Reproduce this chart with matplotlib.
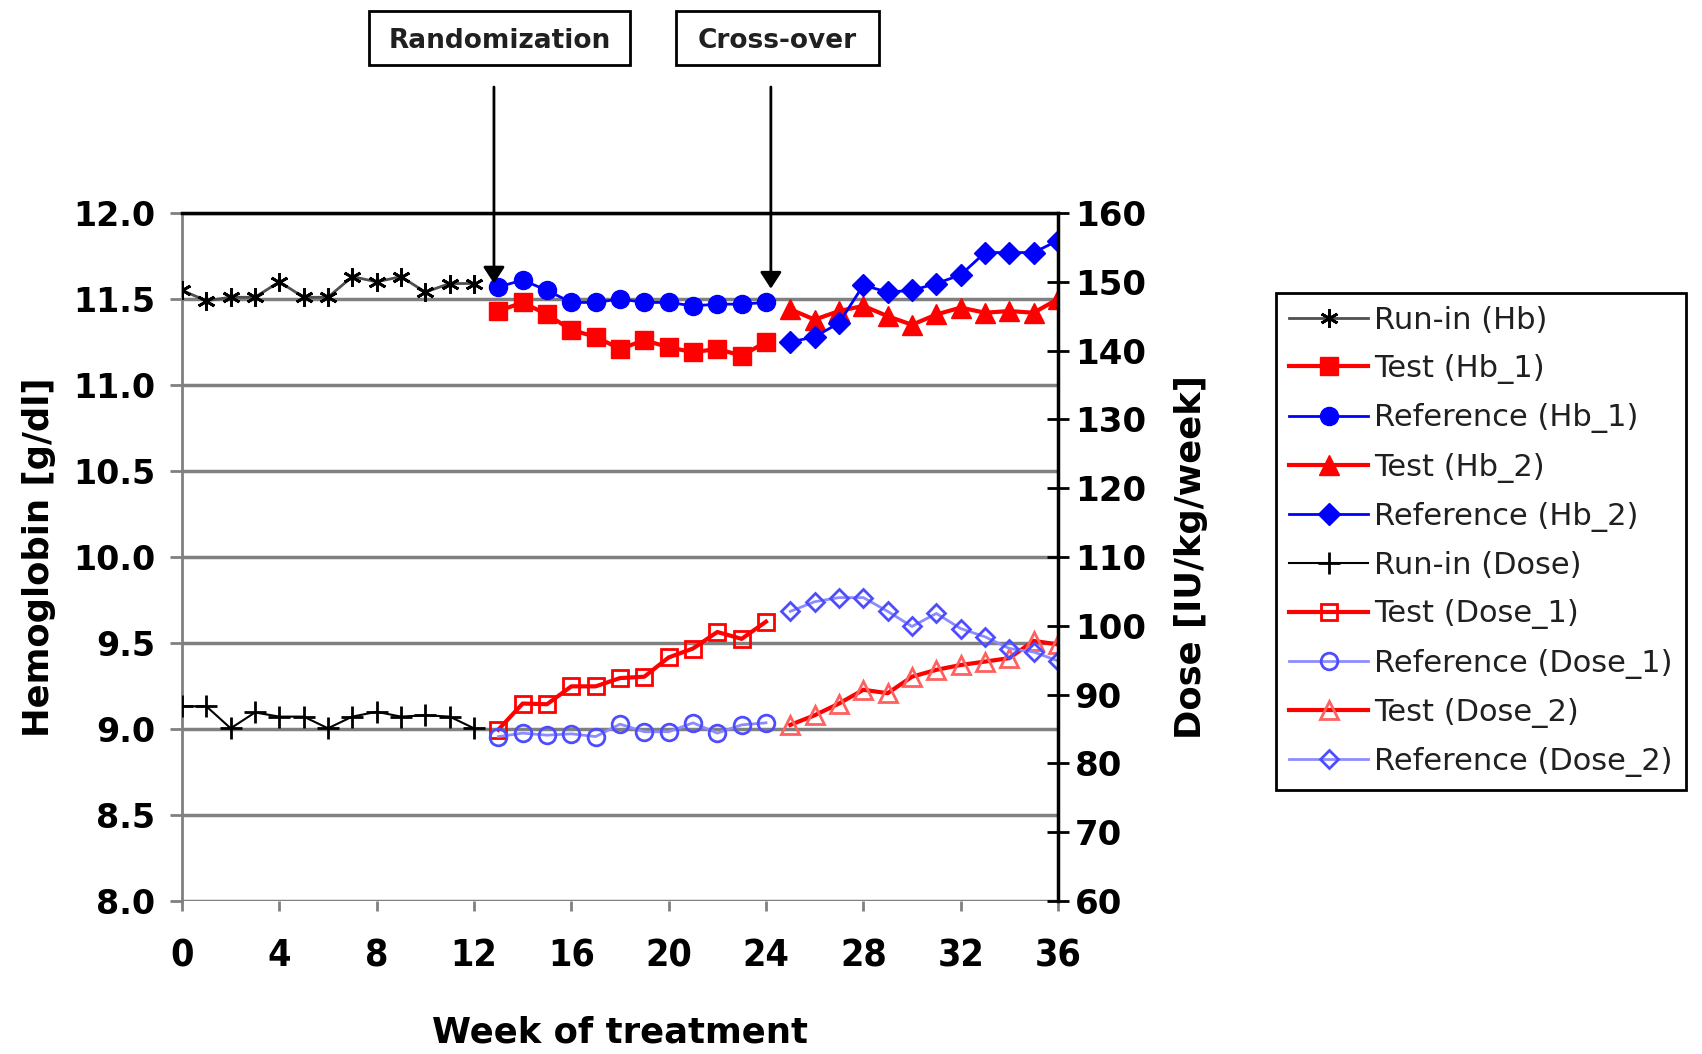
import matplotlib
matplotlib.use('Agg')
import matplotlib.pyplot as plt
from matplotlib import font_manager
from matplotlib.patches import Rectangle

# weeks
wk_run = [0, 1, 2, 3, 4, 5, 6, 7, 8, 9, 10, 11, 12]
wk_p1 = [13, 14, 15, 16, 17, 18, 19, 20, 21, 22, 23, 24]
wk_p2 = [25, 26, 27, 28, 29, 30, 31, 32, 33, 34, 35, 36]

# hemoglobin [g/dl]
hb_run = [11.55, 11.49, 11.51, 11.51, 11.60, 11.51, 11.51, 11.63, 11.60, 11.63, 11.54, 11.59, 11.59]
hb_test_1 = [11.43, 11.48, 11.41, 11.32, 11.28, 11.21, 11.26, 11.22, 11.19, 11.21, 11.17, 11.25]
hb_ref_1 = [11.57, 11.61, 11.55, 11.48, 11.48, 11.50, 11.48, 11.48, 11.46, 11.47, 11.47, 11.48]
hb_test_2 = [11.44, 11.38, 11.43, 11.46, 11.40, 11.35, 11.41, 11.45, 11.42, 11.43, 11.42, 11.50]
hb_ref_2 = [11.25, 11.28, 11.36, 11.58, 11.54, 11.55, 11.59, 11.64, 11.77, 11.77, 11.77, 11.84]

# dose [IU/kg/week]
dose_run = [88.3, 88.3, 85.1, 87.4, 86.8, 86.8, 85.1, 86.8, 87.5, 86.8, 87.0, 86.8, 85.1]
dose_test_1 = [84.9, 88.7, 88.6, 91.2, 91.2, 92.4, 92.6, 95.4, 96.7, 99.1, 98.1, 100.6]
dose_ref_1 = [83.9, 84.4, 84.1, 84.3, 83.9, 85.7, 84.6, 84.6, 85.9, 84.4, 85.6, 85.9]
dose_test_2 = [85.6, 87.0, 88.7, 90.7, 90.2, 92.6, 93.6, 94.3, 94.8, 95.3, 97.8, 97.3]
dose_ref_2 = [102.1, 103.5, 104.1, 104.1, 102.1, 99.9, 101.8, 99.6, 98.4, 96.7, 96.2, 94.9]

W, H = 1702, 1054
plt.rcParams['font.family'] = 'DejaVu Sans'
plt.rcParams['font.weight'] = 'bold'

names = {f.name for f in font_manager.fontManager.ttflist}
if 'Liberation Sans Narrow' in names:
    xfont = dict(family='Liberation Sans Narrow', size=28, weight='bold')
else:
    xfont = dict(family='DejaVu Sans', size=27, weight='bold', stretch='condensed')

fig = plt.figure(figsize=(W / 100, H / 100), dpi=100)
ax = fig.add_axes([182 / W, 1 - 901 / H, 876 / W, 688 / H])
ax2 = ax.twinx()

# hemoglobin on left axis
ax.plot(wk_run, hb_run, color='#505050', lw=2, marker=(6, 2, 0), ms=13,
        mec='black', mew=2, label='Run-in (Hb)', zorder=5)
ax.plot(wk_p1, hb_test_1, color='red', lw=3, marker='s', ms=13, mfc='red',
        mec='red', label='Test (Hb_1)', zorder=5)
ax.plot(wk_p1, hb_ref_1, color='blue', lw=2, marker='o', ms=13, mfc='blue',
        mec='blue', label='Reference (Hb_1)', zorder=5)
ax.plot(wk_p2, hb_test_2, color='red', lw=3, marker='^', ms=14, mfc='red',
        mec='red', label='Test (Hb_2)', zorder=5)
ax.plot(wk_p2, hb_ref_2, color='blue', lw=2, marker='D', ms=11, mfc='blue',
        mec='blue', label='Reference (Hb_2)', zorder=5)

# dose on right axis
ax2.plot(wk_run, dose_run, color='black', lw=1.5, marker='+', ms=16, mew=2,
         label='Run-in (Dose)')
ax2.plot(wk_p1, dose_test_1, color='red', lw=3, marker='s', ms=12, mfc='none',
         mec='red', mew=2, label='Test (Dose_1)')
ax2.plot(wk_p1, dose_ref_1, color='#8c8cff', lw=2, marker='o', ms=12, mfc='none',
         mec='#4d4dff', mew=2, label='Reference (Dose_1)')
ax2.plot(wk_p2, dose_test_2, color='red', lw=3, marker='^', ms=13, mfc='none',
         mec='#ff6060', mew=2, label='Test (Dose_2)')
ax2.plot(wk_p2, dose_ref_2, color='#8c8cff', lw=2, marker='D', ms=9, mfc='none',
         mec='#4d4dff', mew=2, label='Reference (Dose_2)')

ax.set_xlim(0, 36)
ax.set_ylim(8.0, 12.0)
ax2.set_ylim(60, 160)
ax.set_xticks(range(0, 37, 4))
ax.set_yticks([8.0, 8.5, 9.0, 9.5, 10.0, 10.5, 11.0, 11.5, 12.0])
ax.set_yticklabels(['%.1f' % v for v in ax.get_yticks()])
ax2.set_yticks(range(60, 161, 10))

ax.grid(axis='y', color='#808080', lw=2.5)
ax.set_axisbelow(True)
for s in ['top', 'right', 'bottom', 'left']:
    ax.spines[s].set_visible(False)
for s in ['top', 'bottom', 'left']:
    ax2.spines[s].set_visible(False)
ax.spines['left'].set_visible(True)
ax.spines['left'].set_color('#808080')
ax.spines['left'].set_linewidth(2)
ax.spines['top'].set_visible(True)
ax.spines['top'].set_color('black')
ax.spines['top'].set_linewidth(2.5)
ax2.spines['right'].set_color('black')
ax2.spines['right'].set_linewidth(2.5)

ax.tick_params(axis='y', direction='out', length=9, width=2, color='#808080',
               pad=10, labelsize=24)
ax.tick_params(axis='x', direction='out', length=7, width=2, color='#808080', pad=20)
for lbl in ax.get_xticklabels():
    lbl.set(**xfont)
ax2.tick_params(axis='y', direction='inout', length=16, width=2, color='black',
                pad=4, labelsize=24.5)

ax.set_xlabel('Week of treatment', fontsize=25.5, fontweight='bold')
ax.xaxis.set_label_coords(0.5, -0.166)
ax.set_ylabel('Hemoglobin [g/dl]', fontsize=25.5, fontweight='bold')
ax.yaxis.set_label_coords(-0.144, 0.5)
ax2.set_ylabel('Dose [IU/kg/week]', fontsize=25.5, fontweight='bold')
ax2.yaxis.set_label_coords(1.132, 0.5)

# event boxes and arrows
boxes = [('Randomization', 369, 630, 12.82, 11.59), ('Cross-over', 676, 879, 24.2, 11.56)]
for txt, x0, x1, wk, hb in boxes:
    fig.add_artist(Rectangle((x0 / W, 1 - 65 / H), (x1 - x0) / W, 54 / H,
                             transform=fig.transFigure, fill=False, ec='black', lw=2))
    fig.text((x0 + x1) / 2 / W, 1 - 41 / H, txt, ha='center', va='center',
             fontsize=19, fontweight='bold', color='#202020')
    ax.annotate('', xy=(wk, hb), xytext=(wk, 1 - 87 / H),
                textcoords=('data', 'figure fraction'), annotation_clip=False,
                arrowprops=dict(arrowstyle='-|>,head_length=1.0,head_width=0.65',
                                color='black', lw=2, shrinkA=0, shrinkB=0),
                zorder=10)

h1, l1 = ax.get_legend_handles_labels()
h2, l2 = ax2.get_legend_handles_labels()
leg = fig.legend(h1 + h2, l1 + l2, loc='upper left',
                 bbox_to_anchor=(1276 / W, 1 - 293 / H), bbox_transform=fig.transFigure,
                 borderaxespad=0, fancybox=False, edgecolor='black', framealpha=1,
                 prop={'size': 22, 'weight': 'normal'}, handlelength=2.6,
                 handletextpad=0.2, labelspacing=0.63, borderpad=0.42)
leg.get_frame().set_linewidth(2)
for t in leg.get_texts():
    t.set_color('#202020')

fig.savefig('out.png', dpi=100)
